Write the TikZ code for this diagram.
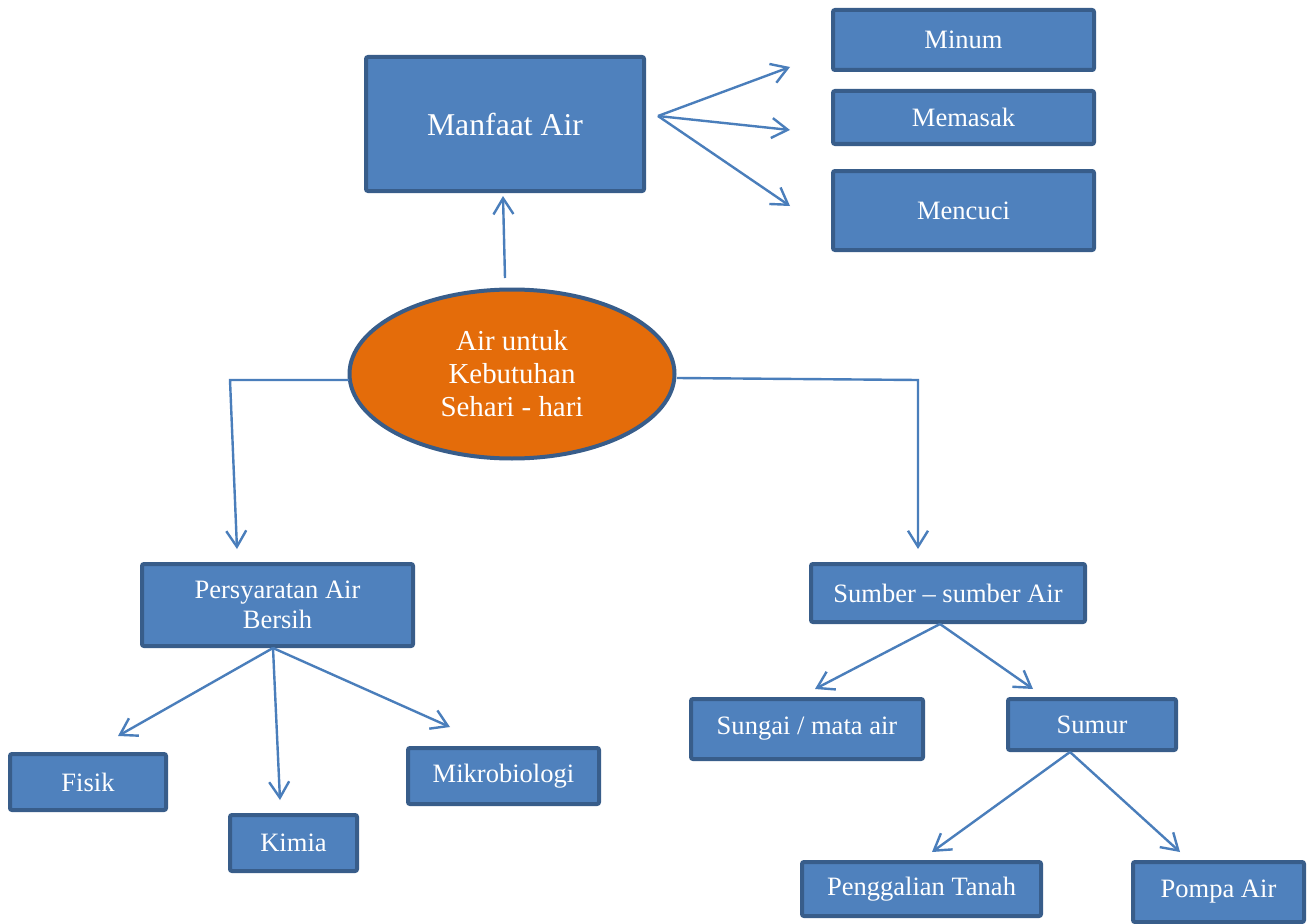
\documentclass[tikz,border=0pt]{standalone}
\usepackage{fontspec}
\setmainfont{Liberation Serif}
\usetikzlibrary{arrows.meta,fit,shapes.geometric}
\definecolor{boxfill}{HTML}{4F81BD}
\definecolor{boxline}{HTML}{385D8A}
\definecolor{ovalfill}{HTML}{E46C0A}
\definecolor{connc}{HTML}{4A7EBB}
\begin{document}
\begin{tikzpicture}[x=0.75pt,y=-0.75pt,
  box/.style={draw=boxline, line width=3pt, fill=boxfill, inner sep=0pt,
    rounded corners=1.5pt},
  boxtext/.style={text=white, inner sep=0pt, align=center,
    font=\fontsize{19.9}{22.5}\selectfont},
  oval/.style={ellipse, draw=boxline, line width=3pt, fill=ovalfill, text=white, inner sep=0pt,
    font=\fontsize{21.7}{24.75}\selectfont, align=center},
  conn/.style={draw=connc, line width=1.8pt, line join=miter,
    -{Straight Barb[length=12pt,width=15pt]}}]
\useasboundingbox (0,0) rectangle (1311,924);
\fill[white] (0,0) rectangle (1311,924);

% nodes
\node[box, fit={(366,57)(644,191)},
  label={[boxtext, font=\fontsize{23.8}{28}\selectfont]center:Manfaat Air}] (manfaat) {};
\node[box, fit={(833,10)(1094,70)}, label={[boxtext]center:Minum}] (minum) {};
\node[box, fit={(833,91)(1094,144)}, label={[boxtext]center:Memasak}] (memasak) {};
\node[box, fit={(833,171)(1094,250)}, label={[boxtext]center:Mencuci}] (mencuci) {};
\node[oval, minimum width=243.75pt, minimum height=126.75pt] (main) at (512,374)
  {Air untuk\\Kebutuhan\\Sehari - hari};
\node[box, fit={(142,564)(413,646)}, label={[boxtext]center:Persyaratan Air\\Bersih}] (syarat) {};
\node[box, fit={(811,564)(1085,622)}, label={[boxtext]center:Sumber -- sumber Air}] (sumber) {};
\node[box, fit={(10,754)(166,810)}, label={[boxtext]center:Fisik}] (fisik) {};
\node[box, fit={(230,815)(357,871)}, label={[boxtext]center:Kimia}] (kimia) {};
\node[box, fit={(408,748)(599,804)}, label={[boxtext]center:Mikrobiologi}] (mikro) {};
\node[box, fit={(691,699)(923,759)}, label={[boxtext]center:Sungai / mata air}] (sungai) {};
\node[box, fit={(1008,699)(1176,750)}, label={[boxtext]center:Sumur}] (sumur) {};
\node[box, fit={(802,862)(1041,916)}, label={[boxtext]center:Penggalian Tanah}] (gali) {};
\node[box, fit={(1133,862)(1304,922)}, label={[boxtext]center:Pompa Air}] (pompa) {};

% connector points
\coordinate (mainTop) at (505,278);
\coordinate (manfaatBot) at (503,196);
\coordinate (mfOut) at (658,116);
\coordinate (toMinum) at (790,67);
\coordinate (toMemasak) at (790,130);
\coordinate (toMencuci) at (790,206);
\coordinate (mainL) at (349,380);
\coordinate (cornerL) at (230,380);
\coordinate (toSyarat) at (237,549);
\coordinate (mainR) at (677,378);
\coordinate (cornerR) at (918,380);
\coordinate (toSumber) at (918,549);
\coordinate (syBot) at (273,648);
\coordinate (toFisik) at (118,736);
\coordinate (toKimia) at (280,800);
\coordinate (toMikro) at (450,727);
\coordinate (suBot) at (940,624);
\coordinate (toSungai) at (815,689);
\coordinate (toSumur) at (1033,689);
\coordinate (srBot) at (1070,752);
\coordinate (toGali) at (932,852);
\coordinate (toPompa) at (1180,852);

% connectors
\draw[conn] (mainTop) -- (manfaatBot);
\draw[conn] (mfOut) -- (toMinum);
\draw[conn] (mfOut) -- (toMemasak);
\draw[conn] (mfOut) -- (toMencuci);
\draw[conn] (mainL) -- (cornerL) -- (toSyarat);
\draw[conn] (mainR) -- (cornerR) -- (toSumber);
\draw[conn] (syBot) -- (toFisik);
\draw[conn] (syBot) -- (toKimia);
\draw[conn] (syBot) -- (toMikro);
\draw[conn] (suBot) -- (toSungai);
\draw[conn] (suBot) -- (toSumur);
\draw[conn] (srBot) -- (toGali);
\draw[conn] (srBot) -- (toPompa);
\end{tikzpicture}
\end{document}
